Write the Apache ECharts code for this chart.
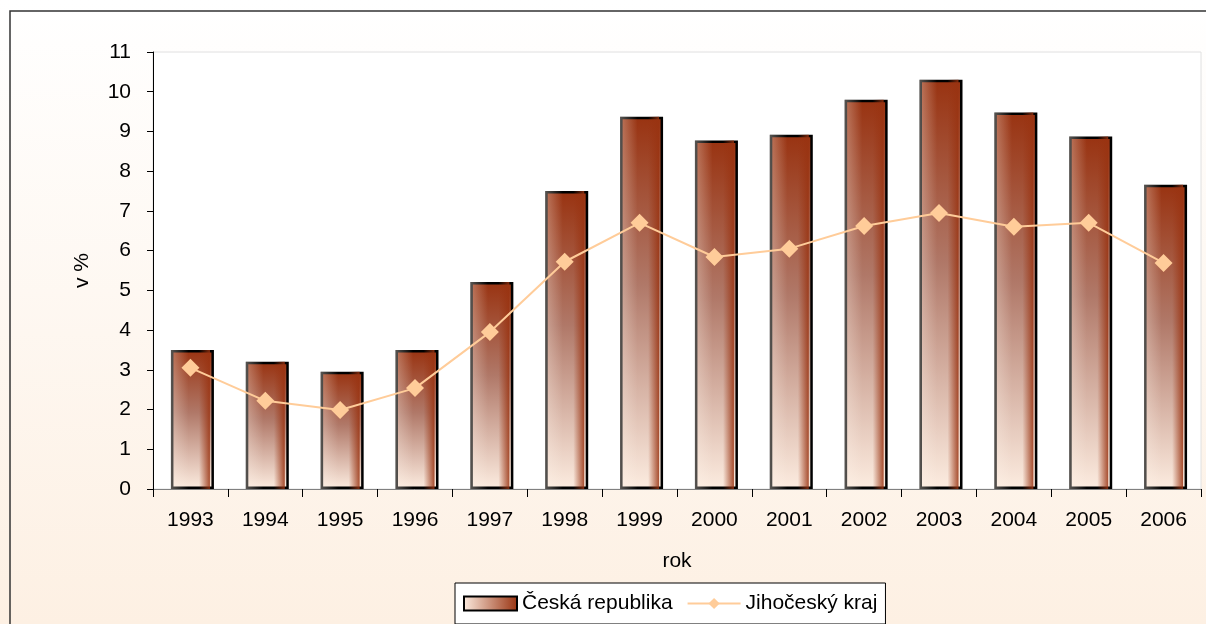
<!DOCTYPE html>
<html>
<head>
<meta charset="utf-8">
<script src="https://cdn.jsdelivr.net/npm/echarts@6/dist/echarts.min.js"></script>
<style>
  html, body { margin: 0; padding: 0; }
  #chart { width: 1206px; height: 624px; }
</style>
</head>
<body>
<div id="chart"></div>
<script>
// roky a hodnoty (v %)
const years = ['1993', '1994', '1995', '1996', '1997', '1998', '1999', '2000', '2001', '2002', '2003', '2004', '2005', '2006']
const ceskaRepublika = [3.5, 3.2, 2.95, 3.5, 5.21, 7.5, 9.37, 8.77, 8.92, 9.8, 10.3, 9.48, 8.87, 7.66]
const jihoceskyKraj = [3.05, 2.22, 1.99, 2.54, 3.95, 5.72, 6.7, 5.84, 6.05, 6.62, 6.95, 6.6, 6.7, 5.69]

const font = 'Liberation Sans, Arial, sans-serif'

let myChart = echarts.init(document.getElementById('chart'))

let barFill = new echarts.graphic.LinearGradient(0, 0, 0, 1, [
  { offset: 0, color: '#993311' },
  { offset: 0.45, color: '#b07868' },
  { offset: 1, color: '#fcece0' }
])
let barShade = new echarts.graphic.LinearGradient(0, 0, 1, 0, [
  { offset: 0, color: 'rgba(255,245,235,0.35)' },
  { offset: 0.45, color: 'rgba(255,245,235,0)' },
  { offset: 0.72, color: 'rgba(153,51,17,0)' },
  { offset: 1, color: 'rgba(153,51,17,0.85)' }
])
let legendFill = new echarts.graphic.LinearGradient(0, 0, 1, 0, [
  { offset: 0, color: '#fcece0' },
  { offset: 1, color: '#993311' }
])

let option = {
  backgroundColor: new echarts.graphic.LinearGradient(0, 0, 0, 1, [
    { offset: 0, color: '#ffffff' },
    { offset: 1, color: '#fdf0e3' }
  ]),
  animation: false,
  textStyle: { fontFamily: font },
  graphic: [
    {
      type: 'rect',
      shape: { x: 10, y: 11, width: 1220, height: 640 },
      style: { fill: 'none', stroke: '#333', lineWidth: 1.5 },
      silent: true
    }
  ],
  grid: {
    left: 153,
    top: 52,
    right: 5,
    bottom: 135,
    show: true,
    backgroundColor: '#fff',
    borderColor: '#e0e0e0',
    borderWidth: 1
  },
  legend: {
    bottom: 0,
    left: 455,
    padding: [10, 8, 10, 8],
    backgroundColor: '#fff',
    borderColor: '#000',
    borderWidth: 1,
    borderRadius: 0,
    itemGap: 14,
    itemWidth: 53,
    itemHeight: 14,
    textStyle: { fontSize: 21, color: '#000', fontFamily: font },
    data: [
      {
        name: 'Česká republika',
        icon: 'rect',
        itemStyle: { color: legendFill, borderColor: '#000', borderWidth: 2 }
      },
      {
        name: 'Jihočeský kraj'
      }
    ]
  },
  xAxis: {
    type: 'category',
    data: years,
    name: 'rok',
    nameLocation: 'middle',
    nameGap: 62,
    nameTextStyle: { fontSize: 21, color: '#000' },
    axisLine: { lineStyle: { color: '#808080', width: 1 } },
    axisTick: { show: true, length: 8, lineStyle: { color: '#000' } },
    axisLabel: { fontSize: 21, color: '#000', margin: 21 },
    splitLine: { show: false }
  },
  yAxis: {
    type: 'value',
    min: 0,
    max: 11,
    interval: 1,
    name: 'v %',
    nameLocation: 'middle',
    nameGap: 60,
    nameTextStyle: { fontSize: 21, color: '#000' },
    axisLine: { show: true, lineStyle: { color: '#000', width: 1 } },
    axisTick: { show: true, length: 6, lineStyle: { color: '#000' } },
    axisLabel: { fontSize: 21, color: '#000', margin: 22 },
    splitLine: { show: false }
  },
  series: [
    {
      type: 'bar',
      name: 'Česká republika',
      data: ceskaRepublika,
      barWidth: 43,
      itemStyle: { color: barFill, borderColor: '#000', borderWidth: 2.5 },
      z: 2
    },
    {
      type: 'bar',
      name: 'stin',
      data: ceskaRepublika,
      barWidth: 39,
      barGap: '-100%',
      silent: true,
      itemStyle: { color: barShade },
      z: 3
    },
    {
      type: 'line',
      name: 'Jihočeský kraj',
      data: jihoceskyKraj,
      symbol: 'diamond',
      symbolSize: 18,
      lineStyle: { color: '#ffcc99', width: 2 },
      itemStyle: { color: '#ffcc99' },
      z: 5
    }
  ]
}
myChart.setOption(option)
</script>
</body>
</html>
